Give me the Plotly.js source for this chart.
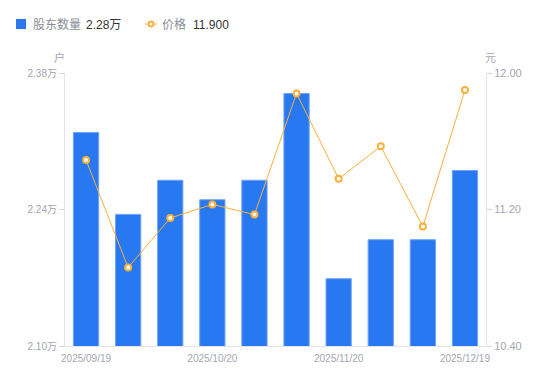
<!DOCTYPE html>
<html>
<head>
<meta charset="utf-8">
<script src="https://cdn.plot.ly/plotly-3.0.1.min.js"></script>
<style>
html,body{margin:0;padding:0;background:#fff;}
#chart{width:550px;height:381px;}
</style>
</head>
<body>
<div id="chart"></div>
<script>
// ---- data ----
const dates = ["2025/09/19","2025/09/30","2025/10/10","2025/10/20","2025/10/31","2025/11/10","2025/11/20","2025/11/28","2025/12/10","2025/12/19"];
const holders = [2.319, 2.235, 2.270, 2.250, 2.270, 2.359, 2.169, 2.209, 2.209, 2.280]; // 万户
const prices = [11.49, 10.86, 11.15, 11.23, 11.17, 11.88, 11.38, 11.57, 11.10, 11.90]; // 元
const xTickLabels = ["2025/09/19","2025/10/20","2025/11/20","2025/12/19"];
const leftTicks = [2.10, 2.24, 2.38];
const rightTicks = [10.40, 11.20, 12.00];
const holderName = "股东数量";
const priceName = "价格";
const holderLast = "2.28万";
const priceLast = "11.900";

// ---- layout helpers ----
const W = 550, H = 381;
const M = {l: 65, r: 64, t: 73, b: 35};
const PW = W - M.l - M.r, PH = H - M.t - M.b;
const px = v => (v - M.l) / PW;
const py = v => (H - M.b - v) / PH;

const BLUE = '#2878f2';
const ORANGE = '#f8b13a';
const GRAY = '#a3a6b0';
const FONT = '"Liberation Sans", Arial, "Noto Sans CJK SC", sans-serif';

const traces = [
  {
    type: 'bar', x: dates, y: holders, name: holderName,
    marker: {color: BLUE, line: {color: '#6ea3f7', width: 1}},
    yaxis: 'y', hoverinfo: 'skip'
  },
  {
    type: 'scatter', mode: 'lines+markers', x: dates, y: prices, name: priceName,
    line: {color: ORANGE, width: 1},
    marker: {symbol: 'circle', size: 6, color: '#ffffff', line: {color: ORANGE, width: 2}},
    yaxis: 'y2', hoverinfo: 'skip'
  }
];

const layout = {
  width: W, height: H,
  margin: M,
  paper_bgcolor: '#fff', plot_bgcolor: '#fff',
  showlegend: false,
  bargap: 0.4,
  font: {family: FONT, size: 10, color: GRAY},
  xaxis: {
    type: 'category', range: [-0.5, dates.length - 0.5],
    tickvals: xTickLabels, ticktext: xTickLabels,
    showline: true, linecolor: '#e3e4e8', linewidth: 1,
    ticks: '', showgrid: false, zeroline: false, ticklabelstandoff: 3,
    tickfont: {size: 10, color: GRAY}, fixedrange: true
  },
  yaxis: {
    range: [leftTicks[0], leftTicks[leftTicks.length - 1]],
    tickvals: leftTicks, ticktext: leftTicks.map(v => v.toFixed(2) + '万'),
    showline: true, linecolor: '#e3e4e8', linewidth: 1,
    ticks: 'outside', ticklen: 5, tickcolor: '#d5d6db', tickwidth: 1,
    showgrid: false, zeroline: false,
    tickfont: {size: 10, color: GRAY}, fixedrange: true
  },
  yaxis2: {
    overlaying: 'y', side: 'right',
    range: [rightTicks[0], rightTicks[rightTicks.length - 1]],
    tickvals: rightTicks, ticktext: rightTicks.map(v => v.toFixed(2)),
    showline: true, linecolor: '#e3e4e8', linewidth: 1,
    ticks: 'outside', ticklen: 5, tickcolor: '#d5d6db', tickwidth: 1,
    showgrid: false, zeroline: false,
    tickfont: {size: 11, color: GRAY}, fixedrange: true
  },
  shapes: [
    {type: 'rect', xref: 'paper', yref: 'paper', x0: px(16), x1: px(26), y0: py(29), y1: py(19),
     fillcolor: BLUE, line: {width: 0}},
    {type: 'line', xref: 'paper', yref: 'paper', x0: px(145), x1: px(157), y0: py(24), y1: py(24),
     line: {color: ORANGE, width: 1}},
    {type: 'circle', xref: 'paper', yref: 'paper', x0: px(148.5), x1: px(153.5), y0: py(26.5), y1: py(21.5),
     fillcolor: '#fff', line: {color: ORANGE, width: 1.8}}
  ],
  annotations: [
    {xref: 'paper', yref: 'paper', x: px(31), y: py(25), xanchor: 'left', yanchor: 'middle', showarrow: false,
     text: holderName, font: {size: 12, color: '#8a8d96', family: FONT}},
    {xref: 'paper', yref: 'paper', x: px(84), y: py(25), xanchor: 'left', yanchor: 'middle', showarrow: false,
     text: holderLast, font: {size: 12, color: '#333333', family: FONT}},
    {xref: 'paper', yref: 'paper', x: px(160), y: py(25), xanchor: 'left', yanchor: 'middle', showarrow: false,
     text: priceName, font: {size: 12, color: '#8a8d96', family: FONT}},
    {xref: 'paper', yref: 'paper', x: px(191), y: py(25), xanchor: 'left', yanchor: 'middle', showarrow: false,
     text: priceLast, font: {size: 12, color: '#333333', family: FONT}},
    {xref: 'paper', yref: 'paper', x: px(59), y: py(58), xanchor: 'center', yanchor: 'middle', showarrow: false,
     text: '户', font: {size: 11, color: GRAY, family: FONT}},
    {xref: 'paper', yref: 'paper', x: px(490), y: py(58), xanchor: 'center', yanchor: 'middle', showarrow: false,
     text: '元', font: {size: 11, color: GRAY, family: FONT}}
  ]
};

Plotly.newPlot('chart', traces, layout, {displayModeBar: false, staticPlot: true});
</script>
</body>
</html>
